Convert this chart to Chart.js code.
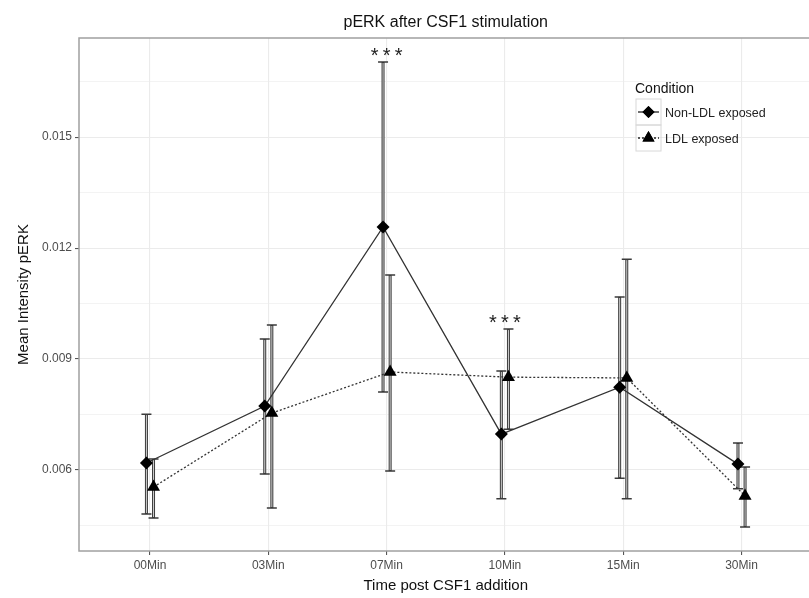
<!DOCTYPE html>
<html>
<head>
<meta charset="utf-8">
<script src="https://cdn.jsdelivr.net/npm/chart.js@4.4.1/dist/chart.umd.min.js"></script>
<style>
  html, body { margin: 0; padding: 0; background: #fff; overflow: hidden; }
  #wrap { width: 809px; height: 598px; overflow: hidden; }
</style>
</head>
<body>
<div id="wrap"><canvas id="myChart" width="820" height="598"></canvas></div>
<script>
const categories = ['00Min', '03Min', '07Min', '10Min', '15Min', '30Min'];

const nonLdlMean  = [0.00619, 0.00773, 0.01257, 0.00697, 0.00824, 0.00616];
const nonLdlUpper = [0.00751, 0.00954, 0.01703, 0.00868, 0.01068, 0.00673];
const nonLdlLower = [0.00481, 0.00589, 0.00811, 0.00522, 0.00578, 0.00549];

const ldlMean  = [0.00554, 0.00754, 0.00865, 0.00851, 0.00849, 0.00530];
const ldlUpper = [0.00630, 0.00992, 0.01127, 0.00981, 0.01170, 0.00608];
const ldlLower = [0.00470, 0.00497, 0.00597, 0.00710, 0.00522, 0.00446];

const sigLabels = ['', '', '***', '***', '', ''];

const yMajorTicks = [0.006, 0.009, 0.012, 0.015];
const yMinorTicks = [0.0045, 0.0075, 0.0105, 0.0135, 0.0165];

const dodge = 0.03;
const FONT = '"Liberation Sans", Arial, sans-serif';

function toPoints(mean, shift) {
    return mean.map((v, i) => ({ x: i + shift, y: v }));
}

// error bars, significance stars, border, titles and legend
const decorations = {
    id: 'decorations',
    beforeDatasetsDraw(chart) {
        const ctx = chart.ctx;
        const xs = chart.scales.x, ys = chart.scales.y;
        const groups = [
            { upper: nonLdlUpper, lower: nonLdlLower, shift: -dodge },
            { upper: ldlUpper, lower: ldlLower, shift: dodge }
        ];
        ctx.save();
        groups.forEach(g => {
            g.upper.forEach((u, i) => {
                const x = xs.getPixelForValue(i + g.shift);
                const yt = ys.getPixelForValue(u);
                const yb = ys.getPixelForValue(g.lower[i]);
                ctx.strokeStyle = '#3a3a3a';
                ctx.lineWidth = 3;
                ctx.beginPath();
                ctx.moveTo(x, yt); ctx.lineTo(x, yb);
                ctx.stroke();
                ctx.strokeStyle = '#d0d0d0';
                ctx.lineWidth = 1;
                ctx.beginPath();
                ctx.moveTo(x, yt + 1); ctx.lineTo(x, yb - 1);
                ctx.stroke();
                ctx.strokeStyle = '#3a3a3a';
                ctx.lineWidth = 1.5;
                ctx.beginPath();
                ctx.moveTo(x - 5, yt); ctx.lineTo(x + 5, yt);
                ctx.moveTo(x - 5, yb); ctx.lineTo(x + 5, yb);
                ctx.stroke();
            });
        });
        ctx.restore();
    },
    afterDraw(chart) {
        const ctx = chart.ctx;
        const xs = chart.scales.x, ys = chart.scales.y;
        const area = chart.chartArea;
        ctx.save();

        // panel border
        ctx.strokeStyle = '#a0a0a0';
        ctx.lineWidth = 1.5;
        ctx.strokeRect(area.left, area.top, area.right - area.left, area.bottom - area.top);

        // stars
        ctx.fillStyle = '#222';
        ctx.font = '20px ' + FONT;
        ctx.textAlign = 'center';
        ctx.textBaseline = 'middle';
        sigLabels.forEach((s, i) => {
            if (!s) return;
            const top = Math.min(ys.getPixelForValue(nonLdlUpper[i]), ys.getPixelForValue(ldlUpper[i]));
            const cx = xs.getPixelForValue(i);
            for (let k = 0; k < s.length; k++) {
                ctx.fillText('*', cx + (k - (s.length - 1) / 2) * 12, top - 6);
            }
        });

        // titles
        ctx.fillStyle = '#111';
        ctx.font = '16px ' + FONT;
        ctx.textBaseline = 'alphabetic';
        ctx.fillText('pERK after CSF1 stimulation', (area.left + area.right) / 2, 27);
        ctx.font = '15px ' + FONT;
        ctx.fillText('Time post CSF1 addition', (area.left + area.right) / 2, 590);
        ctx.save();
        ctx.translate(28, (area.top + area.bottom) / 2);
        ctx.rotate(-Math.PI / 2);
        ctx.fillText('Mean Intensity pERK', 0, 0);
        ctx.restore();

        // legend
        ctx.textAlign = 'left';
        ctx.font = '14px ' + FONT;
        ctx.fillStyle = '#111';
        ctx.fillText('Condition', 635, 93);
        const keys = [
            { label: 'Non-LDL exposed', style: 'rectRot', r: 6, dash: [] },
            { label: 'LDL exposed', style: 'triangle', r: 7, dash: [2, 2] }
        ];
        keys.forEach((k, j) => {
            const bx = 636, by = 99 + j * 26;
            ctx.strokeStyle = '#d8d8d8';
            ctx.lineWidth = 1;
            ctx.strokeRect(bx, by, 25, 26);
            ctx.strokeStyle = '#222';
            ctx.lineWidth = 1.3;
            ctx.setLineDash(k.dash);
            ctx.beginPath();
            ctx.moveTo(bx + 2, by + 13); ctx.lineTo(bx + 23, by + 13);
            ctx.stroke();
            ctx.setLineDash([]);
            ctx.fillStyle = '#000';
            Chart.helpers.drawPoint(ctx, { pointStyle: k.style, radius: k.r, borderWidth: 0 }, bx + 12.5, by + 13);
            ctx.fill();
            ctx.fillStyle = '#222';
            ctx.font = '12.5px ' + FONT;
            ctx.fillText(k.label, bx + 29, by + 18);
        });
        ctx.restore();
    }
};

const data = {
    datasets: [
        {
            label: 'Non-LDL exposed',
            data: toPoints(nonLdlMean, -dodge),
            borderColor: '#333',
            borderWidth: 1.3,
            pointStyle: 'rectRot',
            pointRadius: 6.5,
            pointBackgroundColor: '#000',
            pointBorderColor: '#000',
            pointBorderWidth: 0,
            tension: 0
        },
        {
            label: 'LDL exposed',
            data: toPoints(ldlMean, dodge),
            borderColor: '#333',
            borderWidth: 1.3,
            borderDash: [2, 2],
            pointStyle: 'triangle',
            pointRadius: 7.5,
            pointBackgroundColor: '#000',
            pointBorderColor: '#000',
            pointBorderWidth: 0,
            tension: 0
        }
    ]
};

const config = {
    type: 'line',
    data: data,
    plugins: [decorations],
    options: {
        responsive: false,
        animation: false,
        layout: { padding: { left: 0, right: 1, top: 38, bottom: 0 } },
        plugins: { legend: { display: false }, tooltip: { enabled: false } },
        scales: {
            x: {
                type: 'linear',
                min: -0.6,
                max: 5.6,
                afterBuildTicks: s => { s.ticks = categories.map((c, i) => ({ value: i })); },
                afterFit: s => { s.height = 47; },
                ticks: {
                    callback: v => categories[v],
                    color: '#4d4d4d',
                    font: { family: FONT, size: 12 },
                    padding: 3,
                    maxRotation: 0
                },
                grid: { color: '#ebebeb', lineWidth: 1.1, tickLength: 4, tickColor: '#555' },
                border: { display: false }
            },
            y: {
                min: 0.00381,
                max: 0.01768,
                afterBuildTicks: s => {
                    s.ticks = yMajorTicks.map(v => ({ value: v, isMajor: true }))
                        .concat(yMinorTicks.map(v => ({ value: v, isMajor: false })))
                        .sort((a, b) => a.value - b.value);
                },
                afterFit: s => { s.width = 79; },
                ticks: {
                    callback: function (v, i, ticks) { return ticks[i].isMajor ? v.toFixed(3) : ''; },
                    color: '#4d4d4d',
                    font: { family: FONT, size: 12 },
                    padding: 3
                },
                grid: {
                    color: '#ebebeb',
                    lineWidth: c => (c.tick && c.tick.isMajor ? 1.1 : 0.6),
                    tickLength: 4,
                    tickColor: c => (c.tick && c.tick.isMajor ? '#555' : 'rgba(0,0,0,0)')
                },
                border: { display: false }
            }
        }
    }
};

const myChart = new Chart(document.getElementById('myChart'), config);
</script>
</body>
</html>
